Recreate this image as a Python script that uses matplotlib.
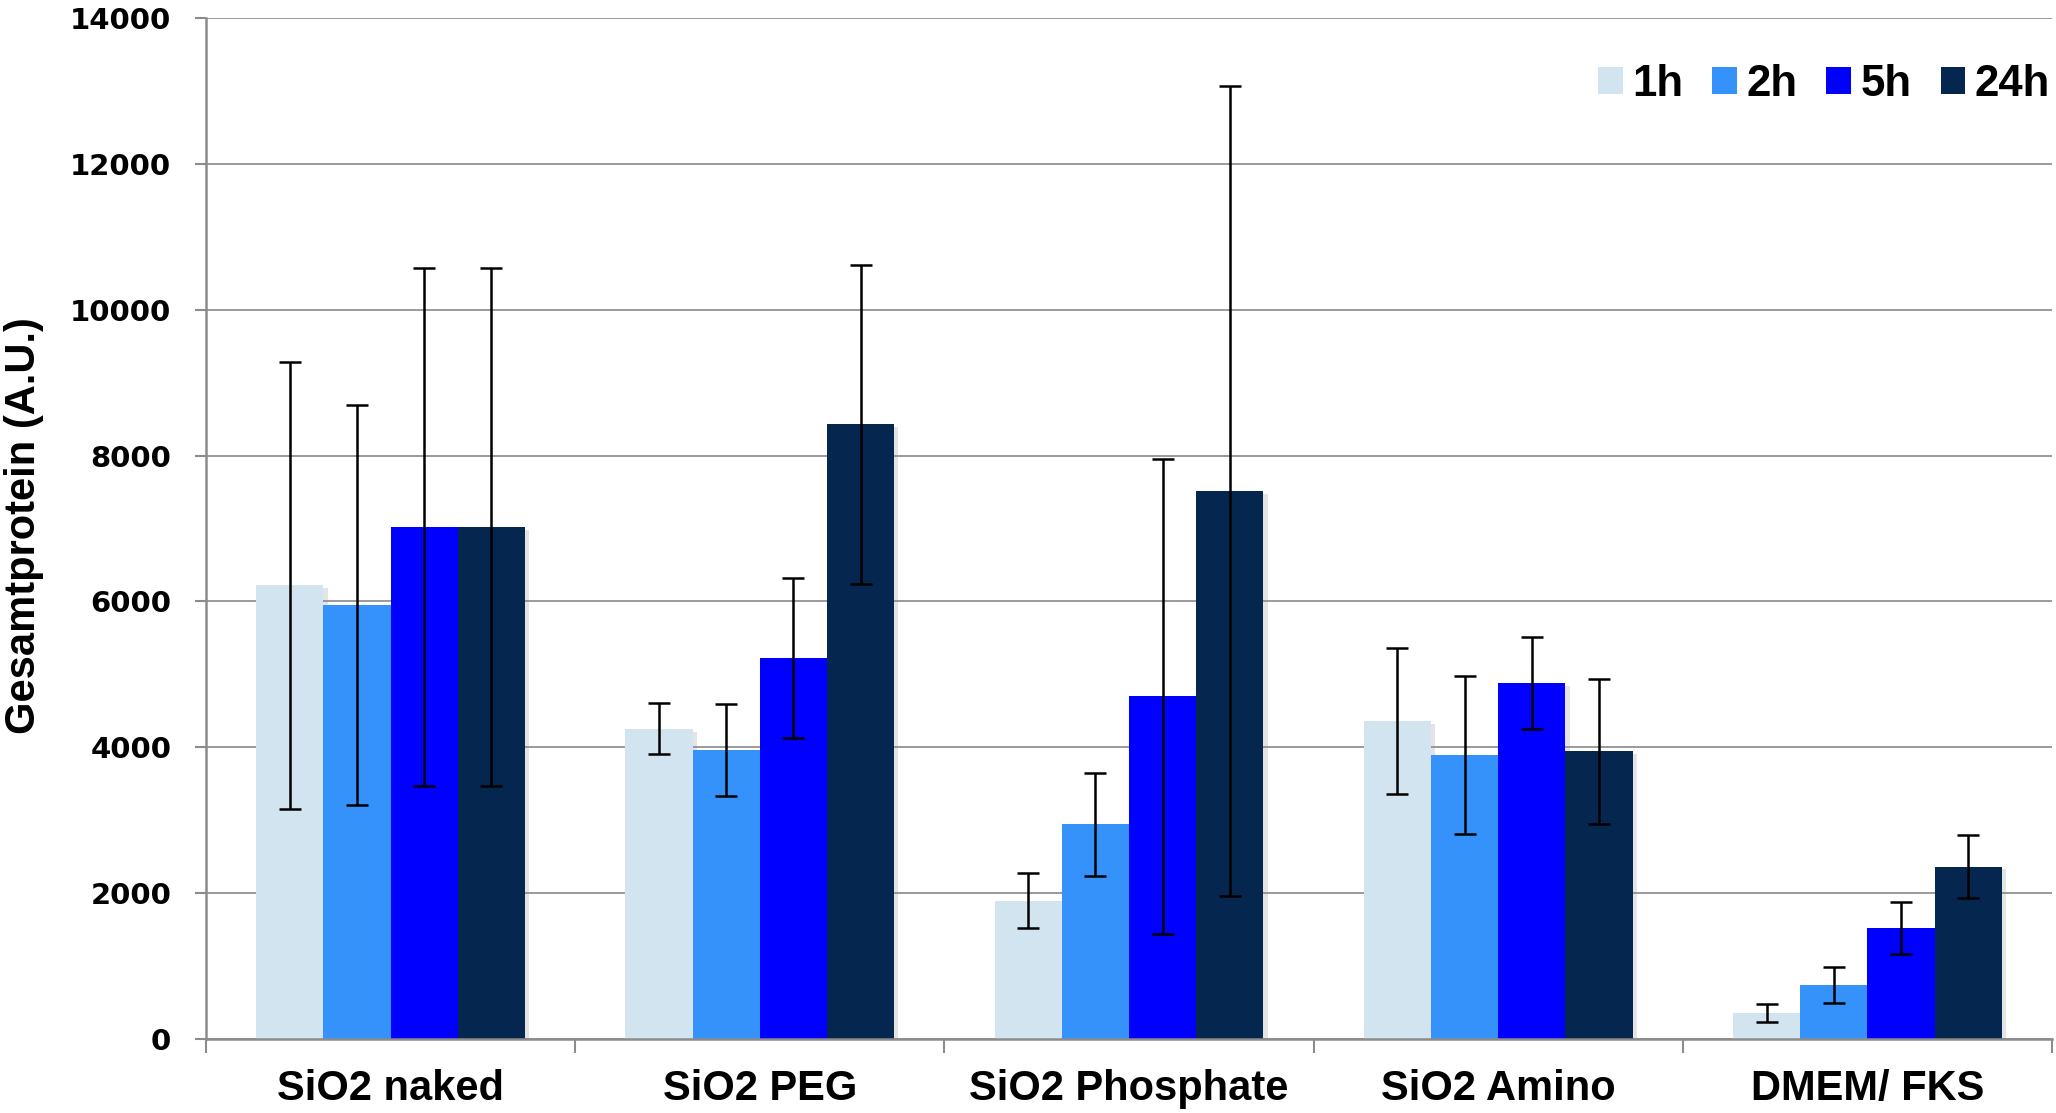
import numpy as np
import matplotlib
matplotlib.use("Agg")
import matplotlib.pyplot as plt
from matplotlib.patches import Rectangle
import matplotlib.patheffects as pe

plt.rcParams['font.family'] = ['Liberation Sans', 'DejaVu Sans']

categories = ["SiO2 naked", "SiO2 PEG", "SiO2 Phosphate", "SiO2 Amino", "DMEM/ FKS"]
series_labels = ["1h", "2h", "5h", "24h"]

values_1h = [6220, 4250, 1890, 4360, 350]
values_2h = [5950, 3960, 2940, 3890, 735]
values_5h = [7020, 5220, 4700, 4880, 1520]
values_24h = [7020, 8430, 7510, 3940, 2360]

err_1h = [3070, 350, 380, 1000, 125]
err_2h = [2740, 630, 710, 1090, 250]
err_5h = [3560, 1100, 3260, 630, 355]
err_24h = [3560, 2190, 5560, 1000, 430]

yticks = [0, 2000, 4000, 6000, 8000, 10000, 12000, 14000]

colors = ["#D2E4F0", "#3592FA", "#0000FE", "#04264F"]

values = [values_1h, values_2h, values_5h, values_24h]
errors = [err_1h, err_2h, err_5h, err_24h]

W, H = 2056, 1113
fig = plt.figure(figsize=(W / 100, H / 100), dpi=100)
ax = fig.add_axes([206 / W, 1 - 1038.5 / H, (2052 - 206) / W, (1038.5 - 18.4) / H])

x = np.arange(len(categories))
bar_w = 0.182
offsets = (np.arange(4) - 1.5) * bar_w

shadow = [pe.SimplePatchShadow(offset=(3, -2), shadow_rgbFace="#888888", alpha=0.22), pe.Normal()]

for i in range(4):
    bars = ax.bar(x + offsets[i], values[i], width=bar_w, color=colors[i],
                  edgecolor="none", zorder=2, label=series_labels[i])
    for b in bars:
        b.set_path_effects(shadow)

for i in range(4):
    ax.errorbar(x + offsets[i], values[i], yerr=errors[i], fmt="none",
                ecolor="black", elinewidth=1.8, capsize=8, capthick=1.8, zorder=4)

ax.set_xlim(-0.5, 4.5)
ax.set_ylim(0, 14000)
ax.set_yticks(yticks)
ax.set_yticklabels([str(t) for t in yticks], fontsize=21, fontweight="bold",
                   family="DejaVu Sans")
ax.set_xticks(x)
ax.set_xticklabels(categories, fontsize=30, fontweight="bold")
ax.set_xticks(np.arange(-0.5, 5.0, 1.0), minor=True)

ax.tick_params(axis="x", which="major", length=0, pad=22)
ax.tick_params(axis="x", which="minor", length=10, width=1.5, color="#8c8c8c", direction="out")
ax.tick_params(axis="y", which="major", length=8, width=1.5, color="#8c8c8c", direction="out", pad=17)

ax.grid(axis="y", color="#9a9a9a", linewidth=1.4, zorder=0)
ax.set_axisbelow(True)

for side in ["top", "right"]:
    ax.spines[side].set_visible(False)
for side in ["left", "bottom"]:
    ax.spines[side].set_color("#8c8c8c")
    ax.spines[side].set_linewidth(1.8)

fig.text(24 / W, 1 - 526 / H, "Gesamtprotein (A.U.)", rotation=90,
         ha="center", va="center", fontsize=30, fontweight="bold")

handles = [Rectangle((0, 0), 1, 1, facecolor=c, edgecolor="none") for c in colors]
leg = fig.legend(handles, series_labels, loc="upper right",
                 bbox_to_anchor=(2050 / W, 1 - 64 / H), ncol=4, frameon=False,
                 prop={"size": 31.5, "weight": "bold"}, handlelength=0.56,
                 handleheight=0.56, handletextpad=0.22, columnspacing=0.66,
                 borderpad=0, borderaxespad=0)

fig.savefig("out.png", dpi=100)
